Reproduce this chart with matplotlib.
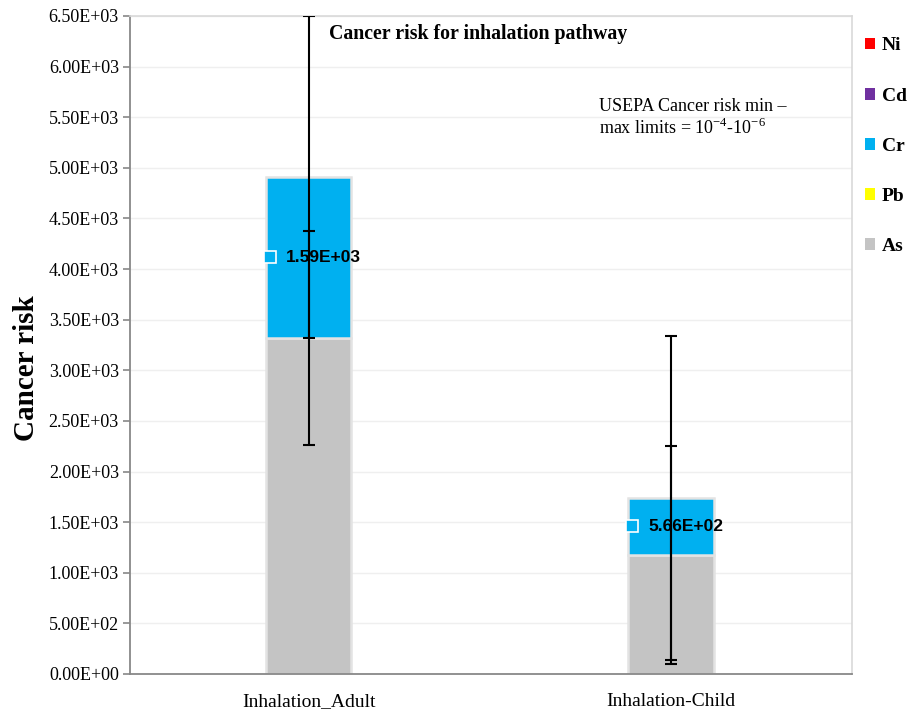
import matplotlib.pyplot as plt
import matplotlib.transforms as mtransforms
from matplotlib.patches import Patch
import numpy as np

# categories and per-metal cancer risk (stacked)
categories = ['Inhalation_Adult', 'Inhalation-Child']
as_risk = [3320, 1175]
pb_risk = [0.5, 0.2]
cr_risk = [1590, 566]
cd_risk = [0.3, 0.1]
ni_risk = [0.4, 0.1]

# error bars for As and Cr segments
as_err = [1060, 1075]
cr_err = [1590, 1600]

labels_cr = ['1.59E+03', '5.66E+02']

colors = {'Ni': '#ff0000', 'Cd': '#7030a0', 'Cr': '#00b0f0',
          'Pb': '#ffff00', 'As': '#c4c4c4'}

serif = 'Liberation Serif'

fig = plt.figure(figsize=(9.14, 7.17), dpi=100)
ax = fig.add_axes([130/914, 1-674/717, 722/914, 658/717])

x = np.arange(len(categories))
w = 0.235
edge = dict(edgecolor='#e3e3e3', linewidth=1.8)

as_arr = np.array(as_risk)
pb_arr = np.array(pb_risk)
cr_arr = np.array(cr_risk)
cd_arr = np.array(cd_risk)
ni_arr = np.array(ni_risk)

b0 = np.zeros(len(x))
ax.bar(x, as_arr, w, bottom=b0, color=colors['As'], zorder=2, **edge)
b1 = b0 + as_arr
ax.bar(x, pb_arr, w, bottom=b1, color=colors['Pb'], zorder=2)
b2 = b1 + pb_arr
ax.bar(x, cr_arr, w, bottom=b2, color=colors['Cr'], zorder=2, **edge)
b3 = b2 + cr_arr
ax.bar(x, cd_arr, w, bottom=b3, color=colors['Cd'], zorder=2)
b4 = b3 + cd_arr
ax.bar(x, ni_arr, w, bottom=b4, color=colors['Ni'], zorder=2)

# error bars
ax.errorbar(x, b1, yerr=as_err, fmt='none', ecolor='black', elinewidth=1.5,
            capsize=4.5, capthick=1.5, zorder=3)
ax.errorbar(x, b3, yerr=cr_err, fmt='none', ecolor='black', elinewidth=1.5,
            capsize=4.5, capthick=1.5, zorder=3)

# data labels on the Cr segment
for i in range(len(x)):
    yc = b2[i] + cr_arr[i] / 2
    off = mtransforms.offset_copy(ax.transData, fig=fig, x=-39, y=0, units='dots')
    ax.plot([x[i]], [yc], marker='s', ms=8, color=colors['Cr'],
            markeredgecolor='white', markeredgewidth=1.2, transform=off, zorder=4)
    ax.annotate(labels_cr[i], (x[i], yc), xytext=(-23, 0), textcoords='offset pixels',
                ha='left', va='center', fontsize=12.5, fontweight='bold',
                family='Liberation Sans', zorder=4)

ax.set_xlim(-0.494, 1.5)
ax.set_ylim(0, 6500)
ax.set_yticks(np.arange(0, 6501, 500))
ax.set_yticklabels([f'{v:.2E}' for v in np.arange(0, 6501, 500)],
                   family=serif, fontsize=13)
ax.set_xticks(x)
ax.set_xticklabels(categories, family=serif, fontsize=14)
ax.tick_params(axis='x', length=0, pad=14)
ax.tick_params(axis='y', length=5, color='#888888', width=1.2, pad=3)
ax.yaxis.grid(True, color='#efefef', linewidth=1)
ax.set_axisbelow(True)

for s in ['left', 'bottom']:
    ax.spines[s].set_color('#888888')
    ax.spines[s].set_linewidth(1.3)
for s in ['top', 'right']:
    ax.spines[s].set_color('#d9d9d9')
    ax.spines[s].set_linewidth(1.2)

ax.set_ylabel('Cancer risk', family=serif, fontsize=21, fontweight='bold')
ax.yaxis.set_label_coords(-0.125, 0.465)

ax.text(0.275, 0.988, 'Cancer risk for inhalation pathway', transform=ax.transAxes,
        family=serif, fontsize=14.3, fontweight='bold', va='top', ha='left')
ax.text(0.65, 0.875,
        'USEPA Cancer risk min –\nmax limits = 10$^{\\mathregular{-4}}$-10$^{\\mathregular{-6}}$',
        transform=ax.transAxes, family=serif, fontsize=13, va='top', ha='left',
        linespacing=1.15)

# legend on the right, Ni on top
order = ['Ni', 'Cd', 'Cr', 'Pb', 'As']
handles = [Patch(facecolor=colors[k], edgecolor='none') for k in order]
fig.legend(handles, order, loc='upper left',
           bbox_to_anchor=(847/914, 1-20/717), frameon=False,
           prop=dict(family=serif, size=14, weight='bold'),
           handlelength=0.55, handleheight=0.55, handletextpad=0.35,
           labelspacing=1.7)

fig.savefig('out.png', dpi=100)
